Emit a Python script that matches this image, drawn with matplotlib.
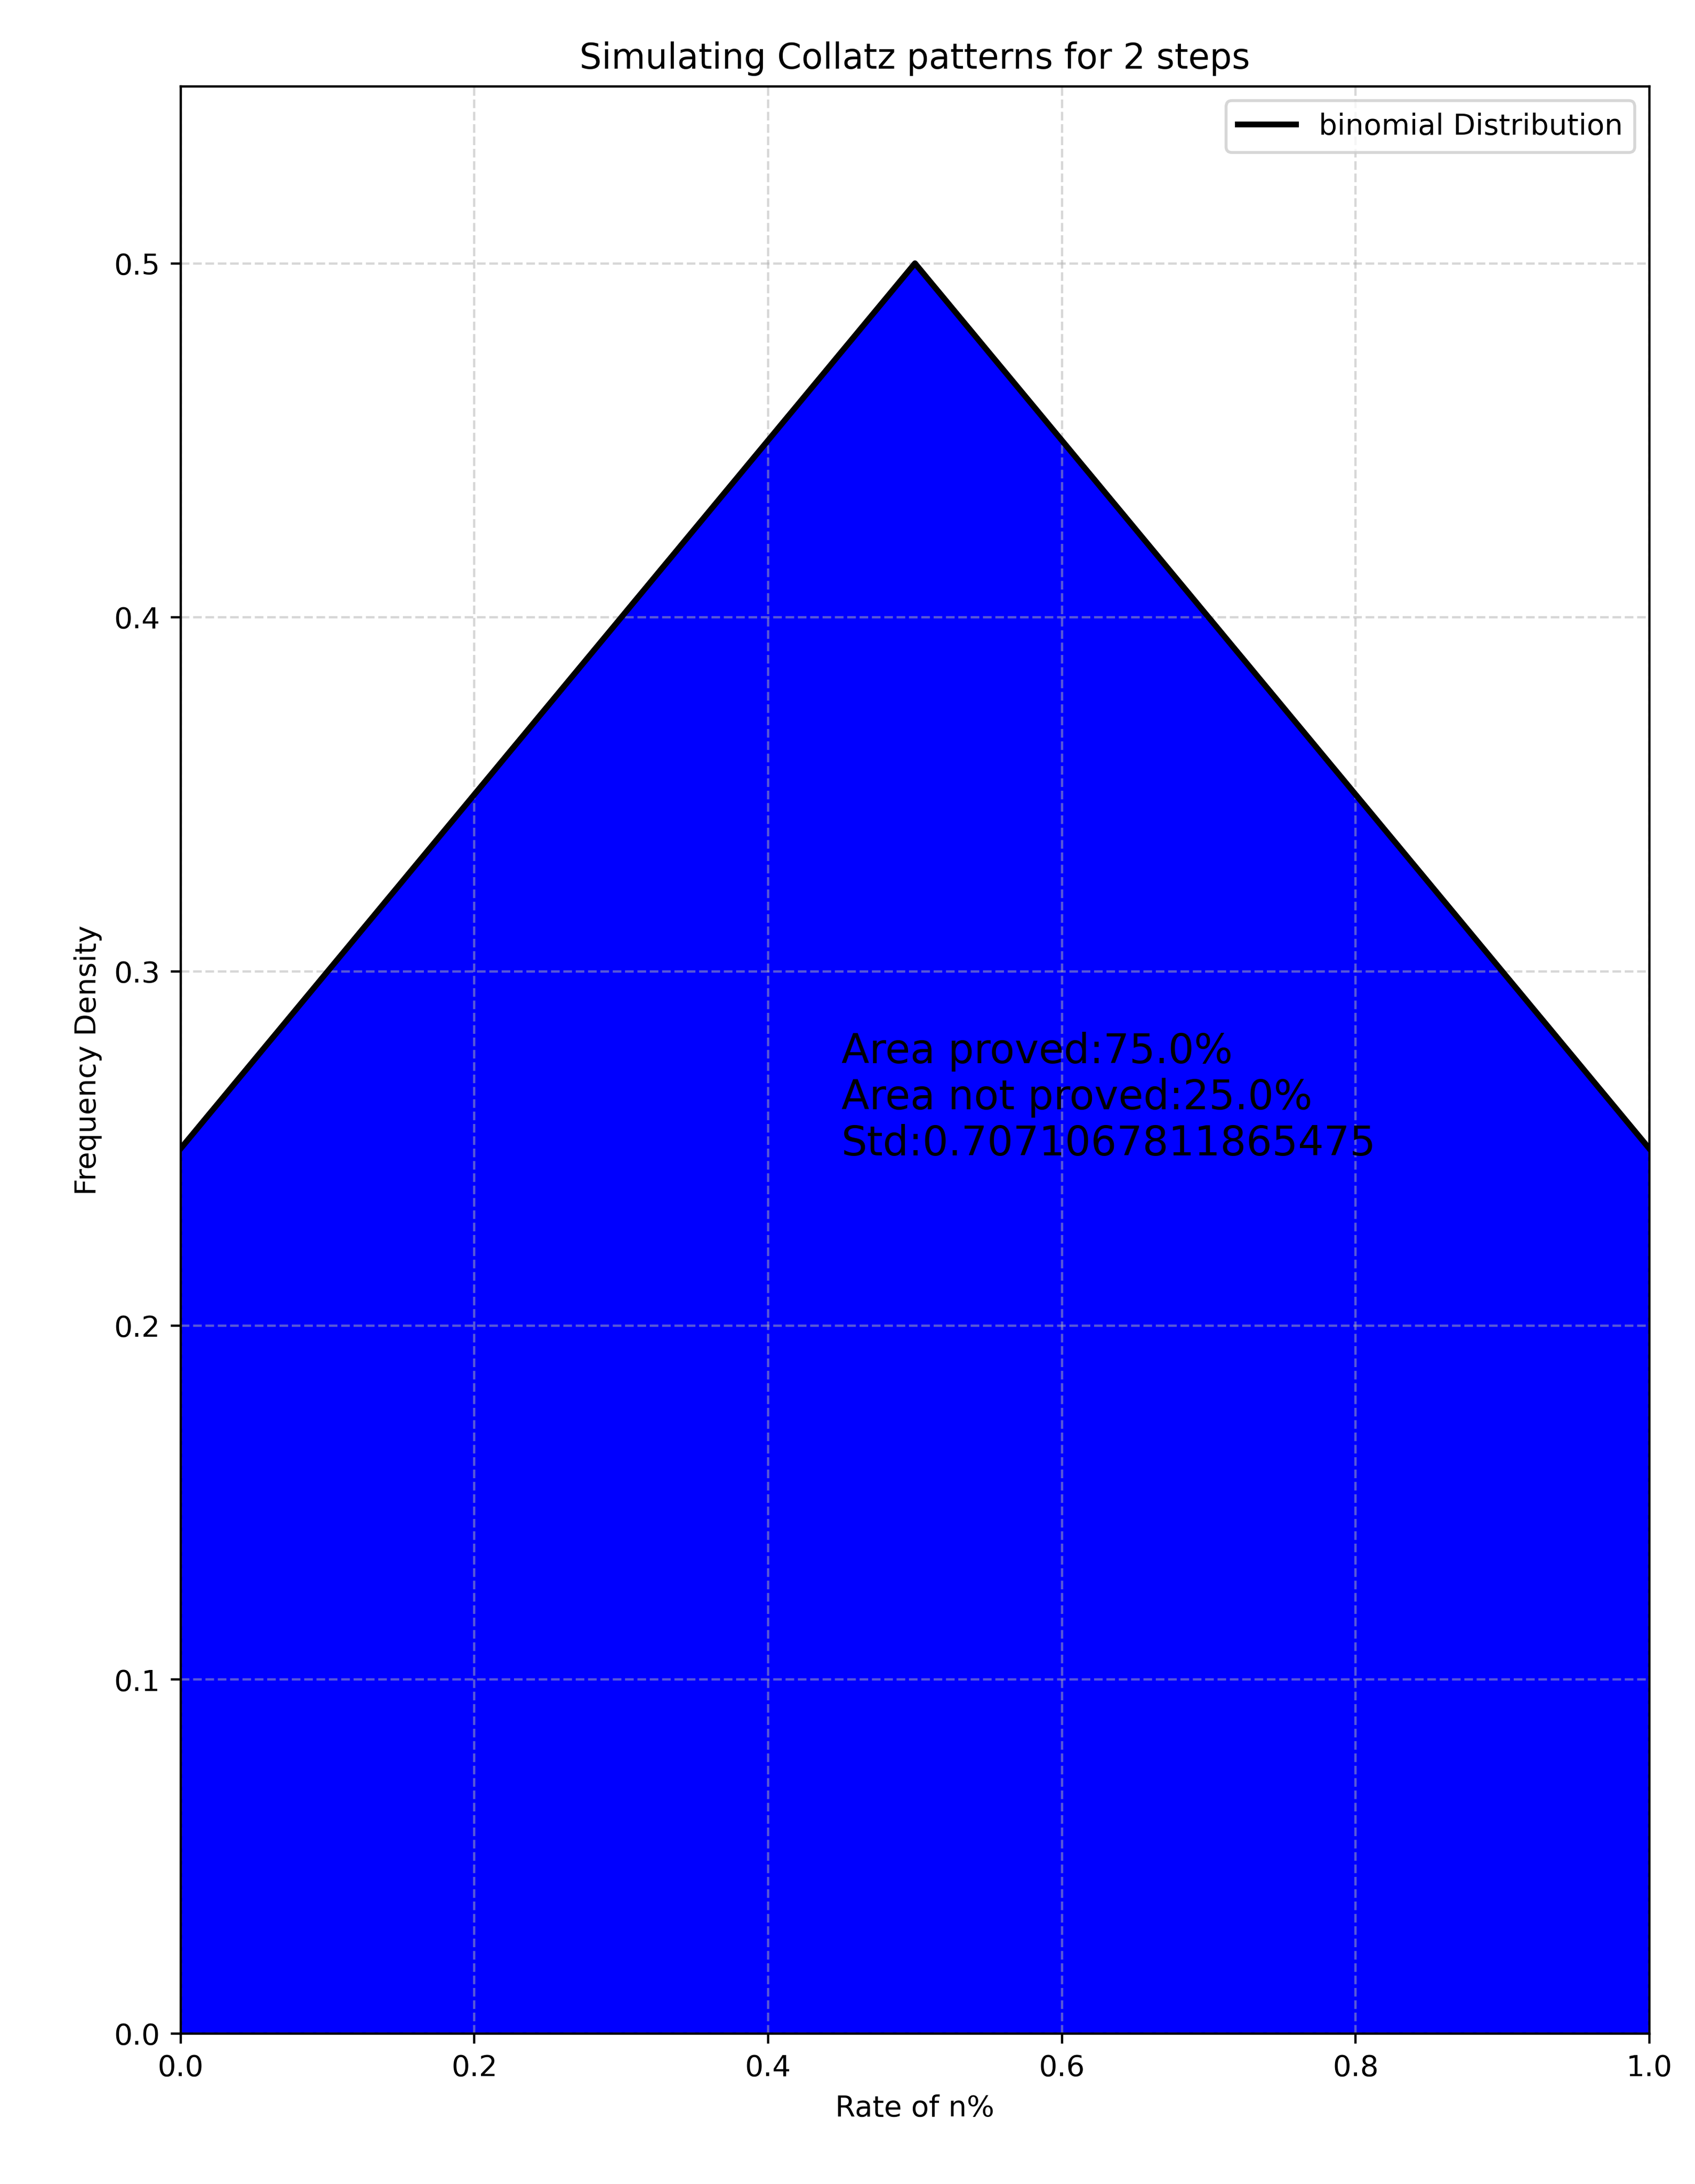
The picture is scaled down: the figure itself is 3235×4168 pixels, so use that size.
import matplotlib
matplotlib.use("Agg")
import matplotlib.pyplot as plt

x_vals = [0.0, 0.5, 1.0]
y_vals = [0.25, 0.5, 0.25]
xticks = [0.0, 0.2, 0.4, 0.6, 0.8, 1.0]
yticks = [0.0, 0.1, 0.2, 0.3, 0.4, 0.5]

fig = plt.figure(figsize=(3235/400, 4168/400), dpi=400)
ax = fig.add_axes([0.1066, 0.0688, 0.973-0.1066, 0.9605-0.0688])
ax.fill_between(x_vals, y_vals, color='blue')
ax.plot(x_vals, y_vals, color='black', lw=2, label='binomial Distribution')
ax.set_xlim(0, 1)
ax.set_ylim(0, 0.55)
ax.set_xticks(xticks)
ax.set_yticks(yticks)
ax.grid(True, linestyle='--', alpha=0.5)
ax.set_title('Simulating Collatz patterns for 2 steps')
ax.set_xlabel('Rate of n%')
ax.set_ylabel('Frequency Density')
ax.legend(loc='upper right')
ax.text(0.45, 0.248, 'Area proved:75.0%\nArea not proved:25.0%\nStd:0.7071067811865475', fontsize=14)
fig.savefig('out.png', dpi=400)
